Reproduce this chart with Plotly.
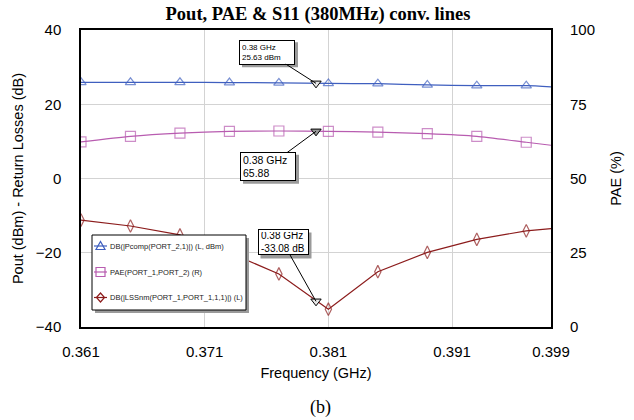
import plotly.graph_objects as go

# ---- data ----
freq = [0.361, 0.365, 0.369, 0.373, 0.377, 0.381, 0.385, 0.389, 0.393, 0.397, 0.399]
pout_dbm = [25.9, 25.9, 25.9, 25.85, 25.75, 25.6, 25.55, 25.2, 25.0, 25.0, 24.7]
pae_pct = [62.3, 64.2, 65.3, 65.9, 66.0, 65.9, 65.6, 65.1, 64.2, 62.2, 61.2]
s11_db = [-11.2, -12.8, -15.2, -20.0, -25.7, -35.2, -25.1, -19.9, -16.4, -14.1, -13.5]

marker_freq = 0.38
marker_pout = 25.63
marker_pae = 65.88
marker_s11 = -33.08

x_ticks = [0.361, 0.371, 0.381, 0.391, 0.399]
y_ticks = [-40, -20, 0, 20, 40]
y2_ticks = [0, 25, 50, 75, 100]

names = ["DB(|Pcomp(PORT_2,1)|) (L, dBm)",
         "PAE(PORT_1,PORT_2) (R)",
         "DB(|LSSnm(PORT_1,PORT_1,1,1)|) (L)"]

BLUE = "#3f5fbf"
PINK = "#b85cb0"
RED = "#8c1c1c"

W, H = 634, 420
L, R, T, B = 81, 83, 30, 93
PW, PH = W - L - R, H - T - B


def px(x):
    return (x - L) / PW


def py(y):
    return 1 - (y - T) / PH


n = len(freq)
fig = go.Figure()
fig.add_trace(go.Scatter(x=freq, y=pout_dbm, name=names[0], mode="lines+markers",
                         line=dict(color=BLUE, width=1.2, shape="spline", smoothing=0.6),
                         marker=dict(symbol="triangle-up-open", size=[9] * (n - 1) + [0], color=BLUE,
                                     line=dict(width=1.2))))
fig.add_trace(go.Scatter(x=freq, y=pae_pct, name=names[1], mode="lines+markers", yaxis="y2",
                         line=dict(color=PINK, width=1.2, shape="spline", smoothing=0.6),
                         marker=dict(symbol="square-open", size=[10] * (n - 1) + [0],
                                     color=PINK, line=dict(width=1.2))))
fig.add_trace(go.Scatter(x=freq, y=s11_db, name=names[2], mode="lines+markers",
                         line=dict(color=RED, width=1.2),
                         marker=dict(symbol="diamond-tall-open", size=[9] * (n - 1) + [0], color=RED,
                                     line=dict(width=1.2))))

# marker points (inverted triangles)
fig.add_trace(go.Scatter(x=[marker_freq, marker_freq], y=[marker_pout, marker_s11], mode="markers",
                         showlegend=False,
                         marker=dict(symbol="triangle-down", size=9, color="#e8e8e8",
                                     line=dict(color="black", width=1))))
fig.add_trace(go.Scatter(x=[marker_freq], y=[marker_pae], mode="markers", yaxis="y2",
                         showlegend=False,
                         marker=dict(symbol="triangle-down", size=9, color="#999999",
                                     line=dict(color="black", width=1))))

annos = []
shapes = []
SHADOW = "#9a9a9a"


def callout(xv, yv, yref, text, cx, cy, ptx, pty, bw, bh, fsize):
    annos.append(dict(x=xv, y=yv, xref="x", yref=yref, text=text, showarrow=True,
                      arrowhead=0, arrowwidth=1, arrowcolor="black",
                      ax=cx - ptx, ay=cy - pty, align="left",
                      font=dict(family="Liberation Sans, Arial", size=fsize, color="black"),
                      bgcolor="white", bordercolor="black", borderwidth=1, borderpad=2,
                      width=bw, height=bh))
    shapes.append(dict(type="rect", xref="paper", yref="paper", layer="above",
                       x0=px(cx - bw / 2 - 3 + 3), x1=px(cx + bw / 2 + 3 + 3),
                       y0=py(cy + bh / 2 + 3 + 3), y1=py(cy - bh / 2 - 3 + 3),
                       fillcolor=SHADOW, line=dict(width=0)))


callout(marker_freq, marker_pout, "y", "0.38 GHz<br>25.63 dBm", 267, 51.7, 316, 83, 50, 19, 8)
callout(marker_freq, marker_pae, "y2", "0.38 GHz<br>65.88", 268, 166.3, 316, 131, 50, 23, 10.5)
callout(marker_freq, marker_s11, "y", "0.38 GHz<br>-33.08 dB", 283, 242.5, 316, 301.4, 45, 20, 10)

# ---- hand-built legend (box, shadow, icons, texts) ----
LX0, LX1, LY0, LY1 = 92, 246, 235, 310
shapes.append(dict(type="rect", xref="paper", yref="paper", layer="above",
                   x0=px(LX0 + 3), x1=px(LX1 + 3), y0=py(LY1 + 3), y1=py(LY0 + 3),
                   fillcolor=SHADOW, line=dict(width=0)))
shapes.append(dict(type="rect", xref="paper", yref="paper", layer="above",
                   x0=px(LX0), x1=px(LX1), y0=py(LY1), y1=py(LY0),
                   fillcolor="white", line=dict(color="black", width=1)))
item_y = [246, 272, 297.5]
icon_paths = ["M-4.5,-3.5 L4.5,-3.5 L0,4.5 Z",
              "M-4.5,-4.5 L4.5,-4.5 L4.5,4.5 L-4.5,4.5 Z",
              "M-4,0 L0,4.5 L4,0 L0,-4.5 Z"]
icon_colors = [BLUE, PINK, RED]
for name, yy, path, col in zip(names, item_y, icon_paths, icon_colors):
    shapes.append(dict(type="line", xref="paper", yref="paper", layer="above",
                       x0=px(94), x1=px(107), y0=py(yy), y1=py(yy),
                       line=dict(color=col, width=1.2)))
    shapes.append(dict(type="path", xref="paper", yref="paper", layer="above",
                       xsizemode="pixel", ysizemode="pixel", xanchor=px(100.5), yanchor=py(yy),
                       path=path, fillcolor="rgba(0,0,0,0)", line=dict(color=col, width=1.2)))
    annos.append(dict(text=name, x=px(108), y=py(yy), xref="paper", yref="paper",
                      xanchor="left", yanchor="middle", showarrow=False,
                      font=dict(family="Liberation Sans, Arial", size=7.5, color="#222222")))

annos.append(dict(text="(b)", x=px(320), y=py(407), xref="paper", yref="paper",
                  xanchor="center", yanchor="middle", showarrow=False,
                  font=dict(family="Liberation Serif, Times New Roman", size=18, color="black")))

tick_font = dict(family="Liberation Sans, Arial", size=15, color="black")
title_font = dict(family="Liberation Sans, Arial", size=14.5, color="black")

fig.update_layout(
    width=W, height=H, margin=dict(l=L, r=R, t=T, b=B),
    paper_bgcolor="white", plot_bgcolor="white", showlegend=False,
    title=dict(text="<b>Pout, PAE &amp; S11 (380MHz) conv. lines</b>", x=px(318), xref="paper",
               xanchor="center", y=1 - 14 / H, yanchor="middle",
               font=dict(family="Liberation Serif, Times New Roman", size=18.5, color="black")),
    xaxis=dict(range=[0.361, 0.399], tickvals=x_ticks, ticktext=[f"{v:.3f}" for v in x_ticks],
               showgrid=True, gridcolor="#d3d3d3", gridwidth=1, zeroline=False,
               showline=True, linecolor="black", linewidth=1.5, mirror=True,
               ticks="outside", ticklen=10, tickcolor="rgba(0,0,0,0)", tickfont=tick_font,
               title=dict(text="Frequency (GHz)", font=title_font, standoff=9)),
    yaxis=dict(range=[-40, 40], tickvals=y_ticks, showgrid=True, gridcolor="#d3d3d3", gridwidth=1,
               zeroline=False, showline=True, linecolor="black", linewidth=1.5, mirror=True,
               ticks="outside", ticklen=15, tickcolor="rgba(0,0,0,0)", tickfont=tick_font,
               title=dict(text="Pout (dBm) - Return Losses (dB)", font=title_font, standoff=9)),
    yaxis2=dict(range=[0, 100], tickvals=y2_ticks, overlaying="y", side="right",
                showgrid=False, zeroline=False, showline=True, linecolor="black", linewidth=2,
                ticks="outside", ticklen=14, tickcolor="rgba(0,0,0,0)", tickfont=tick_font,
                title=dict(text="PAE (%)", font=title_font, standoff=17)),
    annotations=annos, shapes=shapes,
)

fig.write_html("out.html", config={"displayModeBar": False},
               post_script="document.body.style.margin='0';document.body.style.overflow='hidden';")
